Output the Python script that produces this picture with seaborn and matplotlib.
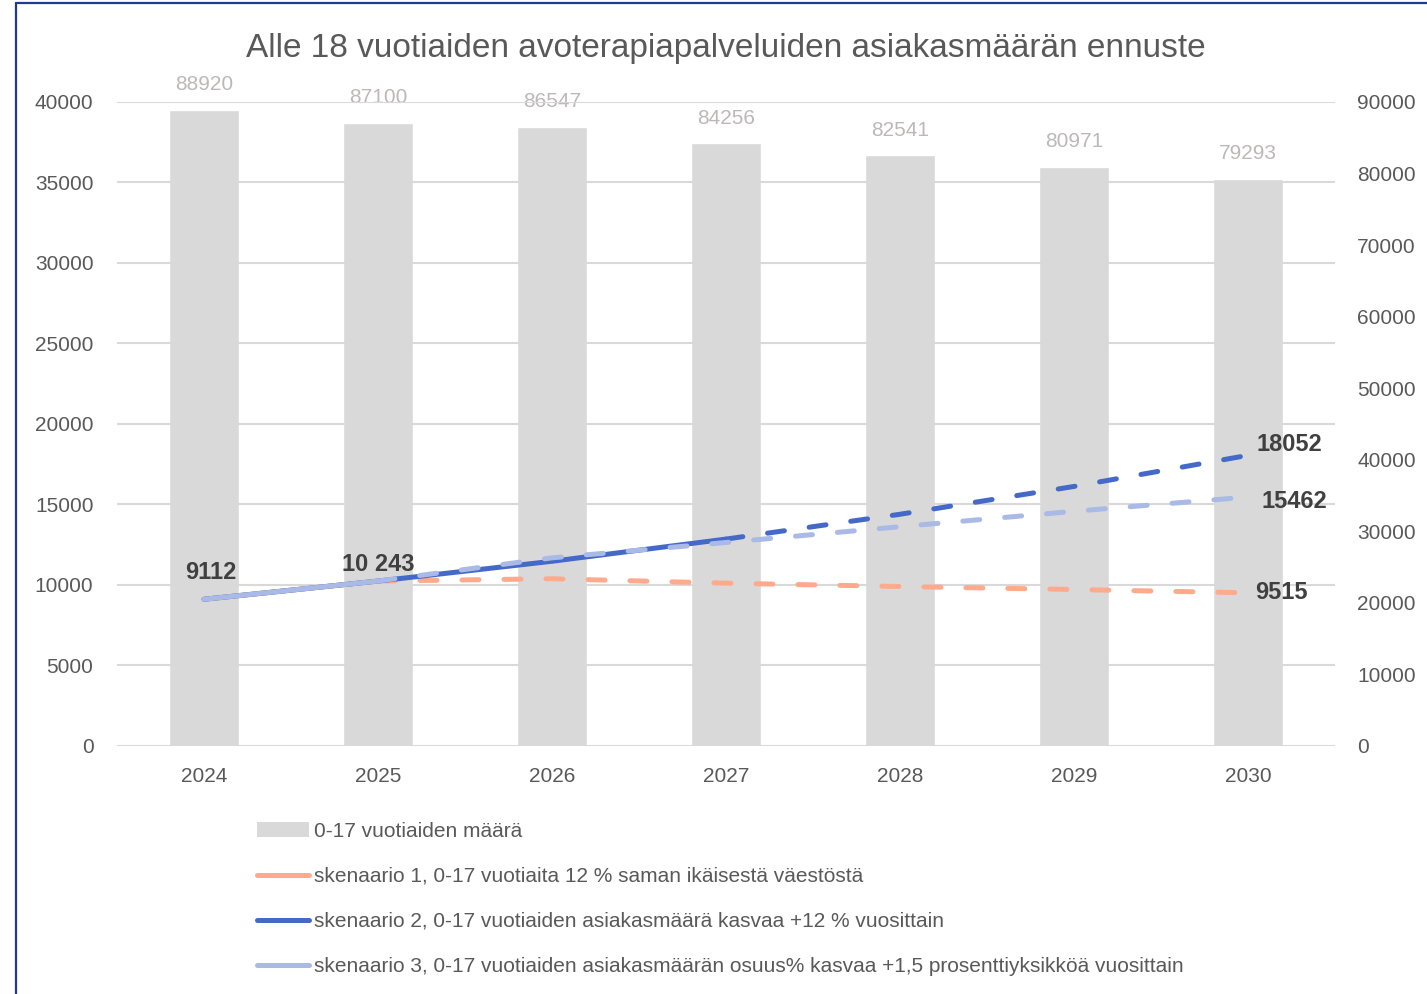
import numpy as np
import pandas as pd
import matplotlib
matplotlib.use("Agg")
import matplotlib.pyplot as plt
from matplotlib.lines import Line2D
from matplotlib.patches import Patch
import seaborn as sns

# data
vuodet = ["2024", "2025", "2026", "2027", "2028", "2029", "2030"]
vaesto_0_17 = [88920, 87100, 86547, 84256, 82541, 80971, 79293]
skenaario1 = [9112, 10243, 10386, 10111, 9905, 9717, 9515]
skenaario2 = [9112, 10243, 11472, 12849, 14391, 16118, 18052]
skenaario3 = [9112, 10243, 11684, 12638, 13619, 14575, 15462]

otsikko = "Alle 18 vuotiaiden avoterapiapalveluiden asiakasmäärän ennuste"
selitteet = [
    "0-17 vuotiaiden määrä",
    "skenaario 1, 0-17 vuotiaita 12 % saman ikäisestä väestöstä",
    "skenaario 2, 0-17 vuotiaiden asiakasmäärä kasvaa +12 % vuosittain",
    "skenaario 3, 0-17 vuotiaiden asiakasmäärän osuus% kasvaa +1,5 prosenttiyksikköä vuosittain",
]

c_bar = "#D9D9D9"
c_s1 = "#FFAA8C"
c_s2 = "#4569C9"
c_s3 = "#AABAE6"
c_txt = "#595959"

sns.set_style("white")
plt.rcParams["font.family"] = ["Liberation Sans", "DejaVu Sans"]

fig = plt.figure(figsize=(14.27, 9.94), dpi=100)
ax = fig.add_axes([0.082, 0.2495, 0.8535, 0.648])   # pylväät, oikea akseli
ax2 = ax.twinx()                                     # viivat, vasen akseli

df_bar = pd.DataFrame({"vuosi": vuodet, "maara": vaesto_0_17})
sns.barplot(data=df_bar, x="vuosi", y="maara", color=c_bar, saturation=1,
            width=0.4, ax=ax)
ax.bar_label(ax.containers[0], fmt="%d", padding=11, color="#BDB8B8", fontsize=15)
ax.set_ylim(0, 90000)
ax.set_yticks(range(0, 90001, 10000))
ax.yaxis.tick_right()
ax.set_xlim(-0.5, 6.5)
ax.set_xlabel("")
ax.set_ylabel("")

idx = np.arange(len(vuodet))
ax2.yaxis.tick_left()
ax2.set_ylim(0, 40000)
ax2.set_yticks(range(0, 40001, 5000))
ax2.grid(axis="y", color=c_bar, linewidth=1.5)
ax2.set_axisbelow(True)

dash = (0, (3.4, 5.0))
lw = 3.6

def piirra(arvot, vari, raja):
    # kiinteä osa ja katkoviiva-osa
    sns.lineplot(x=idx[:raja + 1], y=arvot[:raja + 1], color=vari, linewidth=lw,
                 solid_capstyle="round", ax=ax2)
    sns.lineplot(x=idx[raja:], y=arvot[raja:], color=vari, linewidth=lw,
                 linestyle=dash, dash_capstyle="round", ax=ax2)

piirra(skenaario1, c_s1, 1)
piirra(skenaario2, c_s2, 3)
piirra(skenaario3, c_s3, 1)
ax2.set_xlim(-0.5, 6.5)

lab = dict(fontsize=17, fontweight="bold", color="#404040", textcoords="offset points")
ax2.annotate("9112", (0, skenaario1[0]), xytext=(5, 19), ha="center", va="center", **lab)
ax2.annotate("10 243", (1, skenaario1[1]), xytext=(0, 12), ha="center", va="center", **lab)
ax2.annotate("18052", (6, skenaario2[-1]), xytext=(6, 8), ha="left", va="center", **lab)
ax2.annotate("15462", (6, skenaario3[-1]), xytext=(10, -3), ha="left", va="center", **lab)
ax2.annotate("9515", (6, skenaario1[-1]), xytext=(5, 0), ha="left", va="center", **lab)

for a in (ax, ax2):
    for s in a.spines.values():
        s.set_visible(False)
    a.tick_params(length=0, labelsize=15, labelcolor=c_txt)
    a.set_ylabel("")
ax.tick_params(axis="y", pad=16)
ax2.tick_params(axis="y", pad=17)
ax.tick_params(axis="x", pad=15)
ax.set_xticks(idx)
ax.set_xticklabels(vuodet)

fig.text(726 / 1427, 1 - 48 / 994, otsikko, ha="center", va="center",
         fontsize=24, color=c_txt)

kahvat = [
    Patch(facecolor=c_bar, edgecolor="none"),
    Line2D([], [], color=c_s1, linewidth=lw, solid_capstyle="round"),
    Line2D([], [], color=c_s2, linewidth=lw, solid_capstyle="round"),
    Line2D([], [], color=c_s3, linewidth=lw, solid_capstyle="round"),
]
fig.legend(kahvat, selitteet, loc="upper left", bbox_to_anchor=(238 / 1427, 1 - 803 / 994),
           frameon=False, handlelength=2.5, handleheight=0.7, handletextpad=0.25,
           labelspacing=1.25, labelcolor=c_txt,
           prop={"family": ["Liberation Sans"], "size": 15})

# kehys
fig.add_artist(Line2D([16 / 1427, 16 / 1427], [0, 1 - 3 / 994], color="#1F3C8C", linewidth=1.6))
fig.add_artist(Line2D([16 / 1427, 1], [1 - 3 / 994, 1 - 3 / 994], color="#1F3C8C", linewidth=1.6))

fig.savefig("out.png", dpi=100)
